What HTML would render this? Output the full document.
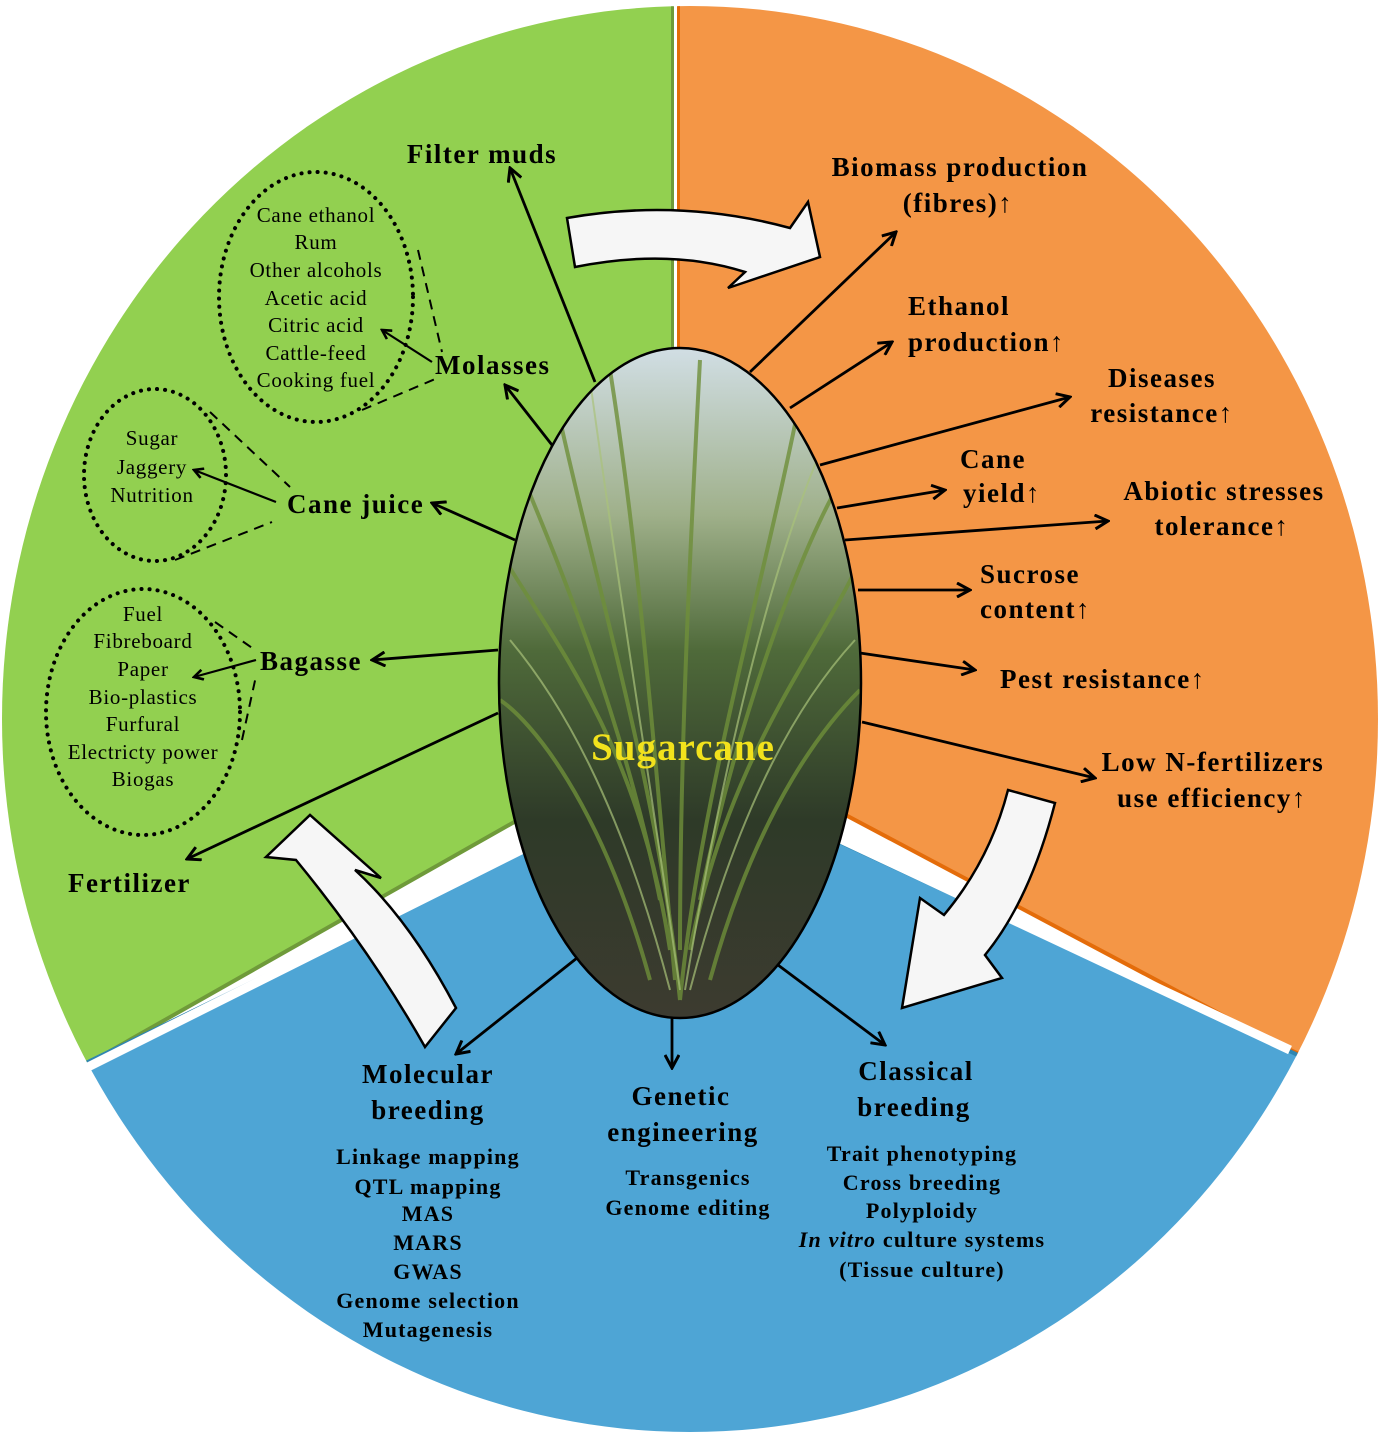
<!DOCTYPE html>
<html><head><meta charset="utf-8"><style>
html,body{margin:0;padding:0;background:#fff;}
svg{display:block;}
text{font-family:"Liberation Serif",serif;}
.b{font-weight:bold;font-size:27px;letter-spacing:1.5px;}
.s{font-size:21px;letter-spacing:0.7px;}
.m{font-weight:bold;font-size:22px;letter-spacing:1.2px;}
</style></head><body>
<svg width="1382" height="1438" viewBox="0 0 1382 1438" xmlns="http://www.w3.org/2000/svg">
<defs>
<clipPath id="circ"><ellipse cx="690" cy="719" rx="688" ry="713"/></clipPath>
<clipPath id="ell"><ellipse cx="680" cy="683" rx="181" ry="335"/></clipPath>
<marker id="ah" markerWidth="12" markerHeight="12" refX="10" refY="6" orient="auto" markerUnits="userSpaceOnUse" viewBox="0 0 12 12">
<path d="M1,1 L10,6 L1,11" fill="none" stroke="#000" stroke-width="2.6"/></marker>
<marker id="ah2" markerWidth="16" markerHeight="16" refX="14" refY="8" orient="auto" markerUnits="userSpaceOnUse" viewBox="0 0 16 16">
<path d="M1,1 L14,8 L1,15" fill="none" stroke="#000" stroke-width="3"/></marker>
<linearGradient id="photo" x1="0" y1="0" x2="0" y2="1">
<stop offset="0" stop-color="#d2dfe6"/><stop offset="0.25" stop-color="#9fb08a"/>
<stop offset="0.45" stop-color="#4f6a3a"/><stop offset="0.7" stop-color="#2e3a28"/>
<stop offset="1" stop-color="#3d3b30"/></linearGradient>
</defs>
<g clip-path="url(#circ)">
<polygon points="673,0 673,732 89,1063 -120,1182 -120,0" fill="#92d050" stroke="#6f9a3a" stroke-width="4"/>
<polygon points="678,0 678,726 1275,1043 1500,1146 1500,0" fill="#f49646" stroke="#e46c0a" stroke-width="4"/>
<polygon points="-120,1163 687,771 1500,1149 1500,1500 -120,1500" fill="#4ea5d5" stroke="#2f86b1" stroke-width="4"/>
</g>
<line x1="80" y1="1071" x2="687" y2="767" stroke="#fff" stroke-width="9"/>
<line x1="687" y1="767" x2="1290" y2="1050" stroke="#fff" stroke-width="9"/>
<line x1="675.5" y1="0" x2="675.5" y2="730" stroke="#fff" stroke-width="3"/>

<g clip-path="url(#ell)">
<rect x="495" y="345" width="370" height="680" fill="url(#photo)"/>
<g stroke="#6f8f3a" stroke-width="4" fill="none" opacity="0.8">
<path d="M680,1000 C660,800 600,600 560,420"/><path d="M680,1000 C700,800 760,600 800,400"/>
<path d="M670,950 C640,750 560,650 505,560"/><path d="M690,950 C730,750 820,650 860,560"/>
<path d="M680,950 C680,750 690,550 700,360"/><path d="M660,900 C620,700 540,520 520,470"/>
<path d="M700,900 C740,700 820,500 850,470"/><path d="M650,980 C600,800 530,720 500,700"/>
<path d="M710,980 C760,800 830,720 860,690"/><path d="M675,980 C655,760 640,560 610,370"/>
</g>
<g stroke="#a9c27a" stroke-width="2" fill="none" opacity="0.7">
<path d="M680,990 C650,780 620,600 590,380"/><path d="M685,990 C720,780 770,560 830,430"/>
<path d="M670,990 C620,800 560,700 510,640"/><path d="M690,990 C740,800 800,700 855,640"/>
</g>
</g>
<ellipse cx="680" cy="683" rx="181" ry="335" fill="none" stroke="#000" stroke-width="2.5"/>
<text x="683" y="760" text-anchor="middle" font-weight="bold" font-size="39" letter-spacing="1" fill="#f2e21c">Sugarcane</text>

<g fill="#f6f6f6" stroke="#000" stroke-width="2.5" stroke-linejoin="miter">
<path d="M567,218 Q680,198 790,228 L808,202 L820,257 L728,288 L745,272 Q670,248 575,267 Z"/>
<path d="M1008,790 L1055,803 Q1030,900 985,955 L1002,978 L902,1008 L920,898 L944,915 Q990,860 1008,790 Z"/>
<path d="M425,1047 L456,1008 Q410,920 355,870 L381,878 L310,815 L266,857 L296,860 Q370,950 425,1047 Z"/>
</g>

<g fill="none" stroke="#000" stroke-width="4" stroke-dasharray="0.1 8" stroke-linecap="round">
<ellipse cx="316" cy="297" rx="97" ry="125"/>
<ellipse cx="155" cy="475" rx="71" ry="86"/>
<ellipse cx="143" cy="712" rx="97" ry="123"/>
</g>
<g fill="none" stroke="#000" stroke-width="2" stroke-dasharray="10 7">
<path d="M418,250 L442,352"/><path d="M362,410 L440,377"/>
<path d="M210,412 L290,487"/><path d="M175,560 L272,522"/>
<path d="M215,622 L255,650"/><path d="M242,740 L256,676"/>
</g>

<g stroke="#000" stroke-width="2.8" fill="none" marker-end="url(#ah2)">
<line x1="595" y1="382" x2="510" y2="168"/>
<line x1="552" y1="445" x2="505" y2="385"/>
<line x1="515" y1="540" x2="432" y2="503"/>
<line x1="498" y1="650" x2="372" y2="660"/>
<line x1="498" y1="713" x2="187" y2="859"/>
<line x1="750" y1="372" x2="896" y2="232"/>
<line x1="790" y1="408" x2="892" y2="342"/>
<line x1="820" y1="465" x2="1070" y2="397"/>
<line x1="837" y1="508" x2="945" y2="490"/>
<line x1="845" y1="540" x2="1108" y2="521"/>
<line x1="858" y1="590" x2="970" y2="590"/>
<line x1="860" y1="653" x2="975" y2="670"/>
<line x1="862" y1="722" x2="1095" y2="778"/>
<line x1="577" y1="958" x2="456" y2="1054"/>
<line x1="672" y1="1017" x2="672" y2="1068"/>
<line x1="778" y1="965" x2="885" y2="1045"/>
</g>
<g stroke="#000" stroke-width="2.2" fill="none" marker-end="url(#ah)">
<line x1="432" y1="362" x2="382" y2="330"/>
<line x1="276" y1="502" x2="194" y2="470"/>
<line x1="256" y1="660" x2="194" y2="677"/>
</g>

<text x="482" y="163" text-anchor="middle" class="b">Filter muds</text>
<text x="435" y="374" class="b">Molasses</text>
<text x="287" y="513" class="b">Cane juice</text>
<text x="260" y="670" class="b">Bagasse</text>
<text x="68" y="892" class="b">Fertilizer</text>
<g text-anchor="middle">
<text x="316" y="222" class="s">Cane ethanol</text>
<text x="316" y="249" class="s">Rum</text>
<text x="316" y="277" class="s">Other alcohols</text>
<text x="316" y="305" class="s">Acetic acid</text>
<text x="316" y="332" class="s">Citric acid</text>
<text x="316" y="360" class="s">Cattle-feed</text>
<text x="316" y="387" class="s">Cooking  fuel</text>
<text x="152" y="445" class="s">Sugar</text>
<text x="152" y="474" class="s">Jaggery</text>
<text x="152" y="502" class="s">Nutrition</text>
<text x="143" y="621" class="s">Fuel</text>
<text x="143" y="648" class="s">Fibreboard</text>
<text x="143" y="676" class="s">Paper</text>
<text x="143" y="704" class="s">Bio-plastics</text>
<text x="143" y="731" class="s">Furfural</text>
<text x="143" y="759" class="s">Electricty power</text>
<text x="143" y="786" class="s">Biogas</text>
</g>

<text x="960" y="176" text-anchor="middle" class="b">Biomass production</text>
<text x="958" y="212" text-anchor="middle" class="b">(fibres)↑</text>
<text x="908" y="315" class="b">Ethanol</text>
<text x="908" y="351" class="b">production↑</text>
<text x="1162" y="387" text-anchor="middle" class="b">Diseases</text>
<text x="1162" y="422" text-anchor="middle" class="b">resistance↑</text>
<text x="960" y="468" class="b">Cane</text>
<text x="963" y="502" class="b">yield↑</text>
<text x="1224" y="500" text-anchor="middle" class="b">Abiotic stresses</text>
<text x="1222" y="535" text-anchor="middle" class="b">tolerance↑</text>
<text x="980" y="583" class="b">Sucrose</text>
<text x="980" y="618" class="b">content↑</text>
<text x="1000" y="688" class="b">Pest resistance↑</text>
<text x="1213" y="771" text-anchor="middle" class="b">Low N-fertilizers</text>
<text x="1212" y="807" text-anchor="middle" class="b">use efficiency↑</text>

<g text-anchor="middle">
<text x="428" y="1083" class="b">Molecular</text>
<text x="428" y="1119" class="b">breeding</text>
<text x="681" y="1105" class="b">Genetic</text>
<text x="683" y="1141" class="b">engineering</text>
<text x="916" y="1080" class="b">Classical</text>
<text x="914" y="1116" class="b">breeding</text>
<text x="428" y="1164" class="m">Linkage mapping</text>
<text x="428" y="1194" class="m">QTL mapping</text>
<text x="428" y="1221" class="m">MAS</text>
<text x="428" y="1250" class="m">MARS</text>
<text x="428" y="1279" class="m">GWAS</text>
<text x="428" y="1308" class="m">Genome selection</text>
<text x="428" y="1337" class="m">Mutagenesis</text>
<text x="688" y="1185" class="m">Transgenics</text>
<text x="688" y="1215" class="m">Genome editing</text>
<text x="922" y="1161" class="m">Trait phenotyping</text>
<text x="922" y="1190" class="m">Cross breeding</text>
<text x="922" y="1218" class="m">Polyploidy</text>
<text x="922" y="1247" class="m"><tspan font-style="italic">In vitro</tspan> culture systems</text>
<text x="922" y="1277" class="m">(Tissue culture)</text>
</g>
</svg>
</body></html>
